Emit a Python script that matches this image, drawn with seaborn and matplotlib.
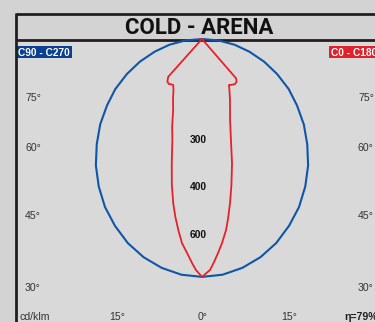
import numpy as np
import pandas as pd
import matplotlib
matplotlib.use("Agg")
import matplotlib.pyplot as plt
import seaborn as sns

# Luminous intensity (cd/klm) against angle from nadir (degrees)
angles_c90 = [0, 5, 10, 15, 20, 25, 30, 35, 40, 45, 50, 55, 60, 65, 70, 75, 80, 85, 90]
cdklm_c90 = [732, 728, 715, 695, 668, 634, 597, 554, 508, 458, 409, 357, 308, 255,
             203, 151, 102, 51, 0]

angles_c0 = [0, 2, 3.1, 4.3, 5.6, 7.2, 8.3, 9.7, 11.4, 13.6, 16, 19.1, 24.7, 28,
             30.4, 33, 36.1, 39.1, 40.9, 42]
cdklm_c0 = [732, 711, 687, 660, 631, 592, 557, 512, 458, 393, 323, 264, 206, 180,
            164, 168, 172, 169, 160, 0]

angles_c180 = [0, 1.5, 2.5, 4, 5.6, 7, 8.5, 9.9, 11.7, 13.7, 16.5, 18.8, 22, 25.8,
               29, 32, 34.5, 36.3, 39.1, 41.8, 42.5]
cdklm_c180 = [732, 711, 691, 660, 631, 594, 554, 514, 458, 393, 321, 285, 237, 205,
              181, 167, 169, 172, 169, 156, 0]

ring_labels = ["300", "400", "600"]
side_angle_labels = ["75°", "60°", "45°", "30°"]
bottom_angle_labels = ["15°", "0°", "15°"]
title = "COLD - ARENA"
plane_c90 = "C90 - C270"
plane_c0 = "C0 - C180"
unit_label = "cd/klm"
efficiency_label = "η=79%"

W, H = 375, 322
BLUE = "#0f55a8"
RED = "#e8202a"

sns.set_theme(style="white")
plt.rcParams["font.family"] = ["Liberation Sans", "DejaVu Sans"]

fig = plt.figure(figsize=(W / 100, H / 100), dpi=100, facecolor="#d3d3d3")

# pixel-space layer for the frame and captions
axp = fig.add_axes([0, 0, 1, 1], zorder=0)
axp.set_xlim(0, W)
axp.set_ylim(H, 0)
axp.axis("off")
axp.add_patch(plt.Rectangle((16, 40), W, H, facecolor="#d9d9d9", edgecolor="none"))
frame = dict(color="#231f20", lw=2, solid_capstyle="butt")
axp.plot([16, 16], [13, H], **frame)
axp.plot([16, W], [14, 14], **frame)
axp.plot([16, W], [40, 40], **frame)
axp.text(199, 28, title, ha="center", va="center", fontsize=16, fontweight="bold",
         family=["Liberation Sans Narrow", "Roboto", "DejaVu Sans"], color="#111111")

axp.add_patch(plt.Rectangle((17, 46), 55, 12, facecolor="#0b3f8f", edgecolor="none"))
axp.text(18, 52.5, plane_c90, ha="left", va="center", fontsize=7.3, fontweight="bold",
         color="white")
axp.add_patch(plt.Rectangle((329, 46), 60, 12, facecolor="#e0202a", edgecolor="none"))
axp.text(331, 52.5, plane_c0, ha="left", va="center", fontsize=7.3, fontweight="bold",
         color="white")

lab = dict(fontsize=7.6, color="#333333", va="center")
for txt, y in zip(side_angle_labels, [98, 148, 216, 288]):
    axp.text(25, y, txt, ha="left", **lab)
    axp.text(358, y, txt, ha="left", **lab)
for txt, x in zip(bottom_angle_labels, [117, 203, 289]):
    axp.text(x, 317, txt, ha="center", **lab)
axp.text(20, 317, unit_label, ha="left", **lab)
axp.text(344, 317, efficiency_label, ha="left", fontsize=7.6, fontweight="bold",
         color="#222222", va="center")

# polar intensity curves in cd/klm units
scale = 0.325          # pixels per cd/klm
ox, oy = 202, 39       # luminaire position in pixels
ax = fig.add_axes([0, 0, 1, 1], zorder=1)
ax.patch.set_alpha(0)
ax.set_xlim(-ox / scale, (W - ox) / scale)
ax.set_ylim(-(H - oy) / scale, oy / scale)
ax.axis("off")


def polar_xy(angles, values, side):
    t = np.radians(angles)
    v = np.asarray(values, float)
    return side * v * np.sin(t), -v * np.cos(t)


xl, yl = polar_xy(angles_c90, cdklm_c90, -1)
xr, yr = polar_xy(angles_c90, cdklm_c90, 1)
blue = pd.DataFrame({"x": np.r_[xl[::-1], xr], "y": np.r_[yl[::-1], yr]})

xl, yl = polar_xy(angles_c180, cdklm_c180, -1)
xr, yr = polar_xy(angles_c0, cdklm_c0, 1)
red = pd.DataFrame({"x": np.r_[xl[::-1], xr], "y": np.r_[yl[::-1], yr]})

sns.lineplot(data=blue, x="x", y="y", sort=False, estimator=None, color=BLUE, lw=1.5, ax=ax)
sns.lineplot(data=red, x="x", y="y", sort=False, estimator=None, color=RED, lw=1.3, ax=ax)

for txt, r in zip(ring_labels, [310, 455, 603]):
    ax.text(-12, -r, txt, ha="center", va="center", fontsize=7.4, fontweight="bold",
            color="#111111")

fig.savefig("out.png", dpi=100, facecolor=fig.get_facecolor())
